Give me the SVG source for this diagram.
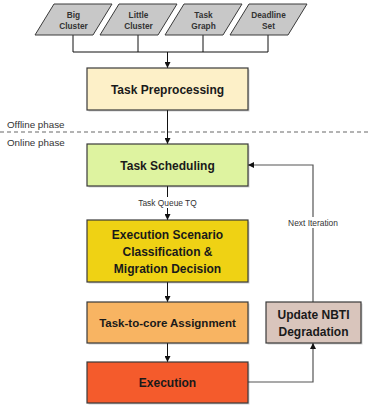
<svg xmlns="http://www.w3.org/2000/svg" width="371" height="410" viewBox="0 0 371 410">
  <style>
    .in { fill: #c8c8c8; stroke: #3a3a3a; stroke-width: 1; }
    .box { stroke: #3a3a3a; stroke-width: 1.2; }
    .shadow { fill: #000; opacity: 0.18; }
    .lbl { font-family: "Liberation Sans", Arial, sans-serif; font-weight: bold; fill: #1a1a1a; text-anchor: middle; }
    .small { font-family: "Liberation Sans", Arial, sans-serif; font-weight: bold; font-size: 8.3px; fill: #333; text-anchor: middle; }
    .note { font-family: "Liberation Sans", Arial, sans-serif; font-size: 8.4px; fill: #333; text-anchor: middle; }
    .phase { font-family: "Liberation Sans", Arial, sans-serif; font-size: 9.8px; fill: #333; }
    .wire { fill: none; stroke: #111; stroke-width: 1; }
    .back { fill: none; stroke: #555; stroke-width: 1.2; }
  </style>
  <defs>
    <marker id="arr" viewBox="0 0 8 8" refX="8" refY="4" markerWidth="6" markerHeight="6" orient="auto" markerUnits="userSpaceOnUse">
      <path d="M0,0 L8,4 L0,8 z" fill="#111"/>
    </marker>
  </defs>

  <rect width="371" height="410" fill="#fff"/>

  <!-- phase separator -->
  <line x1="0" y1="132" x2="371" y2="132" stroke="#9a9a9a" stroke-width="1.5" stroke-dasharray="4,3"/>
  <text class="phase" x="7" y="127.5">Offline phase</text>
  <text class="phase" x="7" y="145.5">Online phase</text>

  <!-- connectors -->
  <g id="connectors">
    <path class="wire" d="M73,35 V52 H268 M138,35 V52 M203,35 V52 M268,35 V52"/>
    <path class="wire" d="M167.5,52 V68" marker-end="url(#arr)"/>
    <path class="wire" d="M167.5,110 V144" marker-end="url(#arr)"/>
    <path class="wire" d="M167.5,186 V220" marker-end="url(#arr)"/>
    <rect x="136" y="197" width="63" height="11" fill="#fff"/>
    <text class="note" x="167.5" y="205.5">Task Queue TQ</text>
    <path class="wire" d="M167.5,282 V302" marker-end="url(#arr)"/>
    <path class="wire" d="M167.5,343 V362" marker-end="url(#arr)"/>
    <path class="back" d="M248,382 H313 V343" marker-end="url(#arr)"/>
    <path class="back" d="M313,302 V165 H248" marker-end="url(#arr)"/>
    <rect x="285" y="217" width="57" height="11" fill="#fff"/>
    <text class="note" x="313" y="225.5">Next Iteration</text>
  </g>

  <!-- inputs -->
  <g id="big-cluster">
    <polygon class="in" points="54,4 112,4 93,35 35,35"/>
    <text class="small" x="73.5" y="17.5">Big</text>
    <text class="small" x="73.5" y="29">Cluster</text>
  </g>
  <g id="little-cluster">
    <polygon class="in" points="119,4 177,4 158,35 100,35"/>
    <text class="small" x="138.5" y="17.5">Little</text>
    <text class="small" x="138.5" y="29">Cluster</text>
  </g>
  <g id="task-graph">
    <polygon class="in" points="184,4 242,4 223,35 165,35"/>
    <text class="small" x="203.5" y="17.5">Task</text>
    <text class="small" x="203.5" y="29">Graph</text>
  </g>
  <g id="deadline-set">
    <polygon class="in" points="249,4 307,4 288,35 230,35"/>
    <text class="small" x="268.5" y="17.5">Deadline</text>
    <text class="small" x="268.5" y="29">Set</text>
  </g>

  <!-- process steps -->
  <g id="task-preprocessing">
    <rect class="shadow" x="88.5" y="69.5" width="161" height="42"/>
    <rect class="box" x="87" y="68" width="161" height="42" fill="#fdf0c8"/>
    <text class="lbl" x="167.5" y="93.5" font-size="12">Task Preprocessing</text>
  </g>
  <g id="task-scheduling">
    <rect class="shadow" x="88.5" y="145.5" width="161" height="42"/>
    <rect class="box" x="87" y="144" width="161" height="42" fill="#def3a0"/>
    <text class="lbl" x="167.5" y="169.5" font-size="12">Task Scheduling</text>
  </g>
  <g id="scenario-classification">
    <rect class="shadow" x="88.5" y="221.5" width="161" height="62"/>
    <rect class="box" x="87" y="220" width="161" height="62" fill="#efd214"/>
    <text class="lbl" x="167.5" y="238.5" font-size="12">Execution Scenario</text>
    <text class="lbl" x="167.5" y="255.5" font-size="12">Classification &amp;</text>
    <text class="lbl" x="167.5" y="272.5" font-size="12">Migration Decision</text>
  </g>
  <g id="task-to-core">
    <rect class="shadow" x="88.5" y="303.5" width="161" height="41"/>
    <rect class="box" x="87" y="302" width="161" height="41" fill="#f8b462"/>
    <text class="lbl" x="167.5" y="327" font-size="11.5">Task-to-core Assignment</text>
  </g>
  <g id="execution">
    <rect class="shadow" x="88.5" y="363.5" width="161" height="41"/>
    <rect class="box" x="87" y="362" width="161" height="41" fill="#f45b2c"/>
    <text class="lbl" x="167.5" y="387" font-size="12">Execution</text>
  </g>
  <g id="update-nbti">
    <rect class="shadow" x="267.5" y="303.5" width="95" height="41"/>
    <rect class="box" x="266" y="302" width="95" height="41" fill="#d9c5bc"/>
    <text class="lbl" x="313.5" y="319" font-size="12">Update NBTI</text>
    <text class="lbl" x="313.5" y="336" font-size="12">Degradation</text>
  </g>
</svg>
